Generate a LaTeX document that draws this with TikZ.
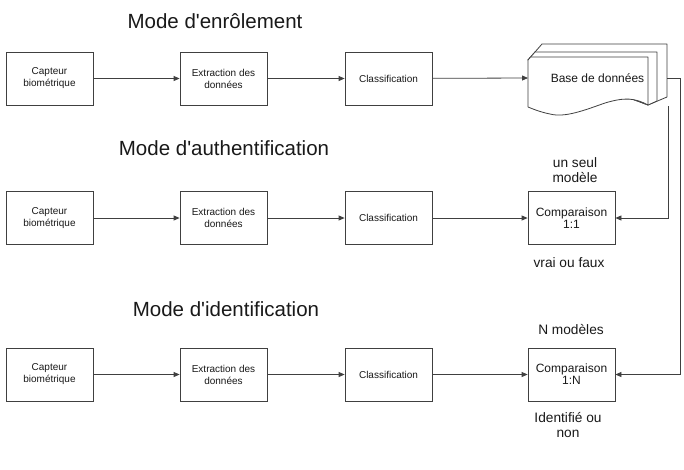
\documentclass[tikz,border=0pt]{standalone}
\usepackage{fontspec}
\setmainfont{Liberation Sans}[Ligatures=TeXOff]
\usetikzlibrary{arrows.meta}
\begin{document}
\begin{tikzpicture}[x=1pt,y=-1pt,
 box/.style={draw=black!75,line width=0.8pt,fill=white,minimum width=87pt,minimum height=53pt,inner sep=0pt,align=center,text=black!90,font=\fontsize{10}{12}\selectfont},
 cmp/.style={box,font=\fontsize{12}{12}\selectfont},
 title/.style={anchor=base,text=black!90,font=\fontsize{20.5}{24}\selectfont},
 lbl/.style={align=center,text=black!90,font=\fontsize{13.7}{15}\selectfont},
 layer/.style={draw=black!75,line width=0.8pt,fill=white,line join=round},
 arr/.style={draw=black!75,line width=0.8pt,-{Triangle[length=6pt,width=5pt]}}]
\path[use as bounding box,fill=white] (0,0) rectangle (684,469);

% titles
\node[title] (t1) at (215,28) {Mode d'enrôlement};
\node[title] (t2) at (224,155) {Mode d'authentification};
\node[title] (t3) at (226,316) {Mode d'identification};

% row 1
\node[box] (a1) at (49.5,78.5) {Capteur\\biométrique};
\node[box] (b1) at (223.5,78.5) {Extraction des\\données};
\node[box] (c1) at (388.5,78.5) {Classification};

% database (stacked documents)
\draw[layer] (528,60) -- (542,44) -- (667,44) -- (667,97) -- (648,105) -- cycle;
\draw[layer] (528,60) -- (535,52) -- (657,52) -- (657,101) -- (648,105) -- cycle;
\draw[layer] (528,60) -- (530.6,57) -- (648,57) -- (648,105)
  .. controls (635,98) and (625,97) .. (605,103)
  .. controls (585,110) and (565,118) .. (550,114)
  .. controls (540,112) and (533,109) .. (528,107) -- cycle;
\node[text=black!90,font=\fontsize{12}{12}\selectfont] (db) at (597.5,78) {Base de données};
\coordinate (dbl) at (528,78);
\coordinate (dbr) at (667,78);
\coordinate (dbb) at (668,106);
\coordinate (k1) at (680,78);

% row 2
\node[box] (a2) at (49.5,218) {Capteur\\biométrique};
\node[box] (b2) at (223.5,218) {Extraction des\\données};
\node[box] (c2) at (388.5,218) {Classification};
\node[cmp] (d2) at (571.5,218) {Comparaison\\1:1};

% row 3
\node[box] (a3) at (49.5,374.5) {Capteur\\biométrique};
\node[box] (b3) at (223.5,374.5) {Extraction des\\données};
\node[box] (c3) at (388.5,374.5) {Classification};
\node[cmp] (d3) at (571.5,374.5) {Comparaison\\1:N};

% labels
\node[lbl] (l1) at (575,170.5) {un seul\\modèle};
\node[lbl] (l2) at (569,263) {vrai ou faux};
\node[lbl] (l3) at (571,330) {N modèles};
\node[lbl] (l4) at (568,425.5) {Identifié ou\\non};

% connectors
\draw[arr] (a1) -- (b1);
\draw[arr] (b1) -- (c1);
\draw[arr] (c1) -- (dbl);
\draw[arr] (a2) -- (b2);
\draw[arr] (b2) -- (c2);
\draw[arr] (c2) -- (d2);
\draw[arr] (a3) -- (b3);
\draw[arr] (b3) -- (c3);
\draw[arr] (c3) -- (d3);
\draw[arr] (dbb) |- (d2.east);
\draw[arr] (dbr) -- (k1) |- (d3.east);
\end{tikzpicture}
\end{document}
